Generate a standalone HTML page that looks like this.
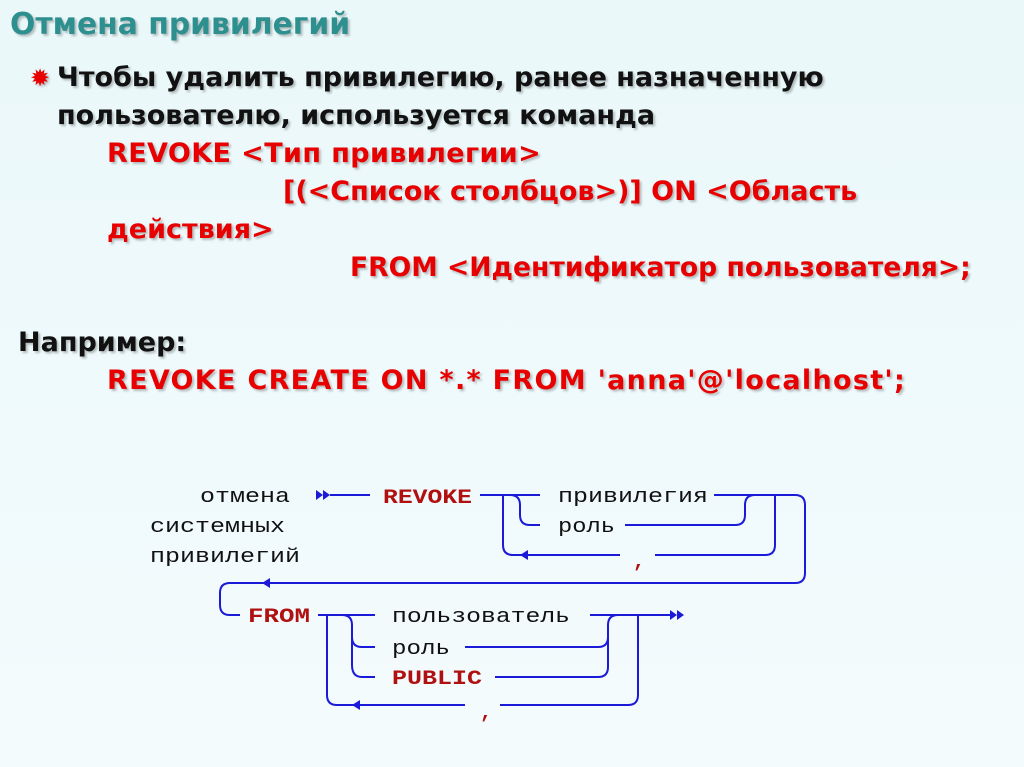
<!DOCTYPE html>
<html><head><meta charset="utf-8"><style>
body{margin:0;width:1024px;height:767px;overflow:hidden;background:linear-gradient(#eaf8fa,#f4fbfd);position:relative;font-family:"Comic Sans MS","DejaVu Sans","Liberation Sans",sans-serif}
.t{position:absolute;white-space:nowrap;font-weight:bold;font-size:27px;line-height:30px;color:#111;text-shadow:2px 2px 2px rgba(0,0,0,.25)}
.r{color:#e80000}
</style></head><body>
<div class="t" style="left:10px;top:10px;font-size:29.8px;color:#2e8f8f">Отмена привилегий</div>
<div class="t r" style="left:30px;top:63px;font-size:24px">✹</div>
<div class="t" style="left:57px;top:63px">Чтобы удалить привилегию, ранее назначенную</div>
<div class="t" style="left:57px;top:101px">пользователю, используется команда</div>
<div class="t r" style="left:107px;top:139px;letter-spacing:0.4px">REVOKE &lt;Тип привилегии&gt;</div>
<div class="t r" style="left:283px;top:177px">[(&lt;Список столбцов&gt;)] ON &lt;Область</div>
<div class="t r" style="left:107px;top:215px">действия&gt;</div>
<div class="t r" style="left:350px;top:253px;font-size:26.6px">FROM &lt;Идентификатор пользователя&gt;;</div>
<div class="t" style="left:18px;top:328px">Например:</div>
<div class="t r" style="left:107px;top:366px;letter-spacing:1.3px">REVOKE CREATE ON *.* FROM 'anna'@'localhost';</div>
<svg width="1024" height="767" style="position:absolute;left:0;top:0" font-family="Liberation Mono,monospace" font-size="20">
<g fill="none" stroke="#1a1ad8" stroke-width="2">
<path d="M330 495H370M480 495H540M714 495H795Q805 495 805 505V573Q805 583 795 583H230Q220 583 220 593V605Q220 615 230 615H240"/>
<path d="M503 495Q503 495 503 505V545Q503 555 513 555H620M655 555H765Q775 555 775 545V495"/>
<path d="M510 495Q520 495 520 505V515Q520 525 530 525H540M625 525H735Q745 525 745 515V505Q745 495 755 495"/>
<path d="M318 615H375M590 615H670M327 615V695Q327 705 337 705H465M500 705H628Q638 705 638 695V615"/>
<path d="M342 615Q352 615 352 625V665Q352 677 362 677H375M352 637Q352 647 362 647H375M465 647H598Q608 647 608 637V625Q608 615 618 615M495 677H598Q608 677 608 667V625"/>
</g>
<g fill="#1a1ad8">
<path d="M316 490L323 495L316 500ZM323 490L330 495L323 500Z"/>
<path d="M670 610L677 615L670 620ZM677 610L684 615L677 620Z"/>
<path d="M528 550L520 555L528 560Z"/>
<path d="M270 578L262 583L270 588Z"/>
<path d="M360 700L352 705L360 710Z"/>
</g>
<g fill="#111">
<text x="200" y="502" textLength="90" lengthAdjust="spacingAndGlyphs">отмена</text>
<text x="150" y="532" textLength="135" lengthAdjust="spacingAndGlyphs">системных</text>
<text x="150" y="562" textLength="150" lengthAdjust="spacingAndGlyphs">привилегий</text>
<text x="558" y="502" textLength="150" lengthAdjust="spacingAndGlyphs">привилегия</text>
<text x="558" y="532" textLength="57" lengthAdjust="spacingAndGlyphs">роль</text>
<text x="392" y="622" textLength="178" lengthAdjust="spacingAndGlyphs">пользователь</text>
<text x="392" y="654" textLength="58" lengthAdjust="spacingAndGlyphs">роль</text>
</g>
<g fill="#b01010" font-weight="bold">
<text x="383" y="503" textLength="89" lengthAdjust="spacingAndGlyphs">REVOKE</text>
<text x="248" y="622" textLength="62" lengthAdjust="spacingAndGlyphs">FROM</text>
<text x="392" y="684" textLength="90" lengthAdjust="spacingAndGlyphs">PUBLIC</text>
<text x="633" y="567">,</text>
<text x="480" y="718">,</text>
</g>
</svg>
</body></html>
